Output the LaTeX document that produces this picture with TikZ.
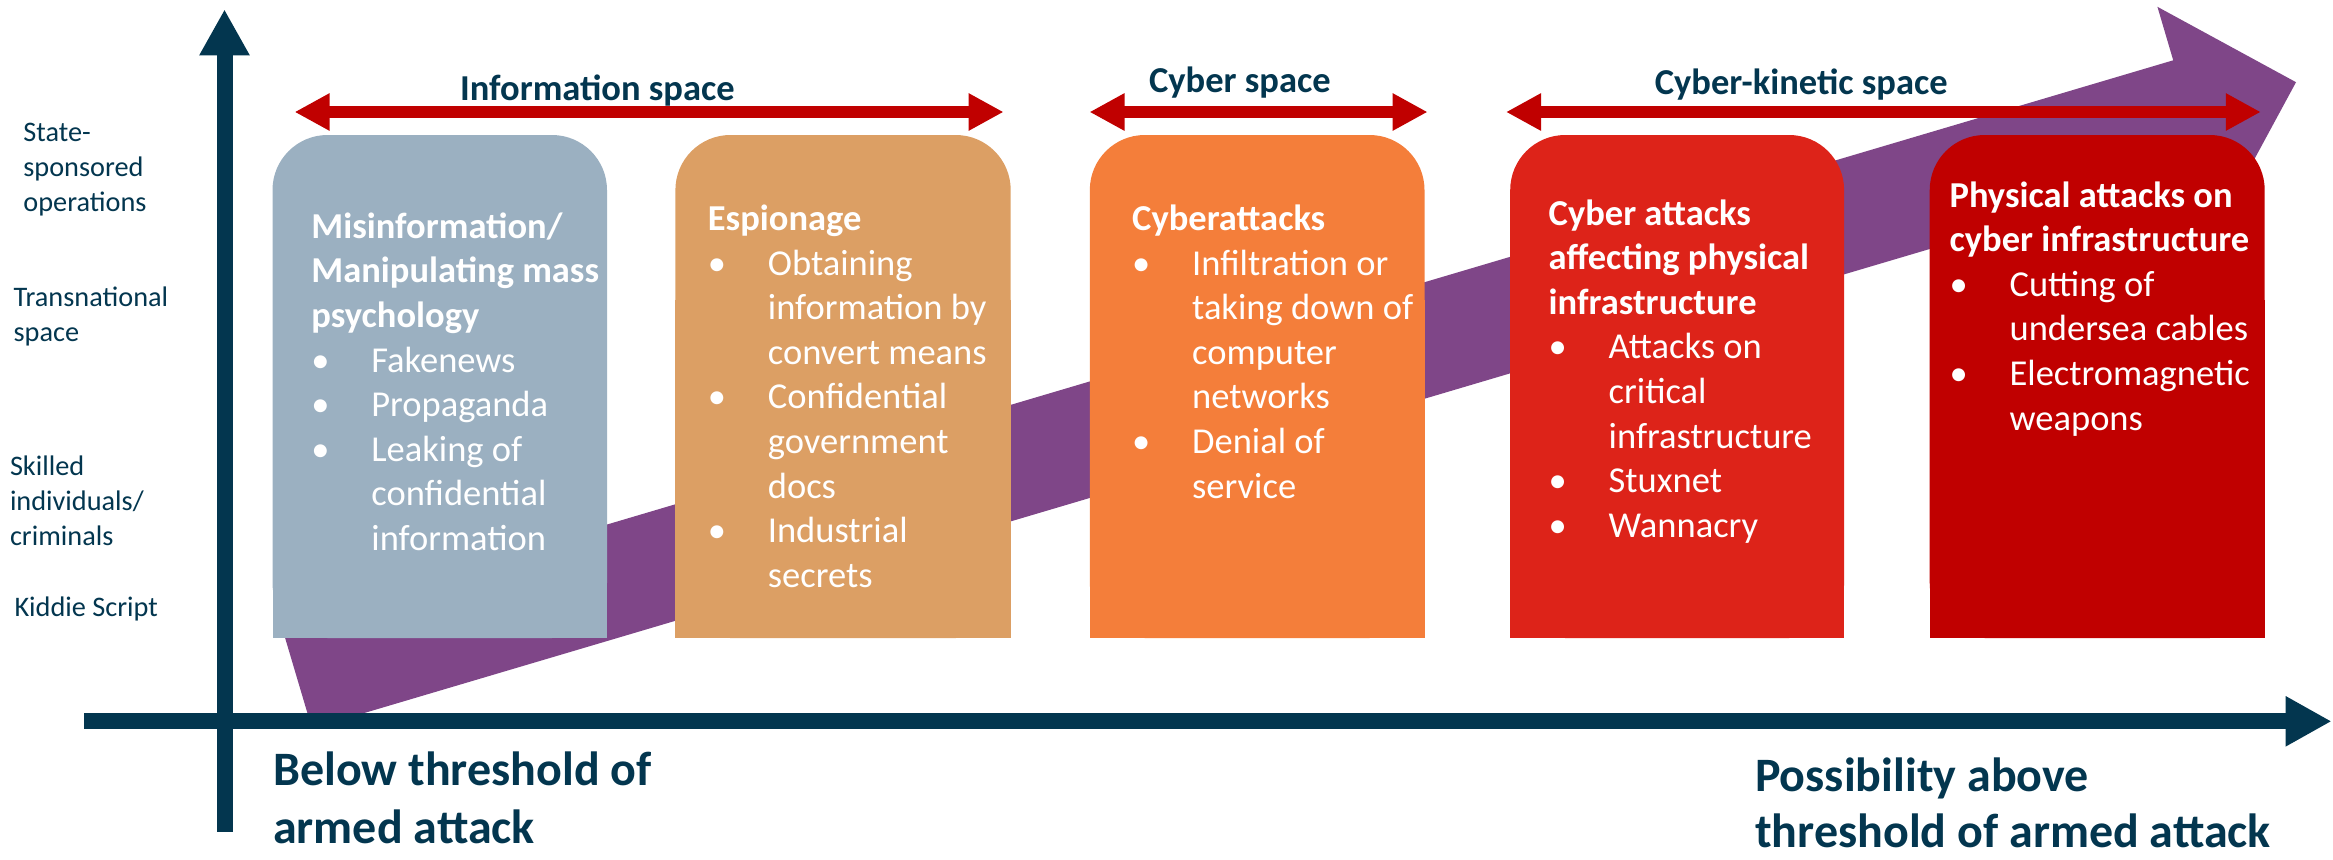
\documentclass[tikz,border=0pt]{standalone}
\usepackage{fontspec}
\setmainfont{Carlito}
\usetikzlibrary{arrows.meta}
\definecolor{navy}{HTML}{03364F}
\definecolor{spanred}{HTML}{C00000}
\definecolor{band}{HTML}{7F4688}
\definecolor{tileA}{HTML}{9BB0C1}
\definecolor{tileB}{HTML}{DC9F64}
\definecolor{tileC}{HTML}{F47E3A}
\definecolor{tileD}{HTML}{DD2319}
\definecolor{tileE}{HTML}{C00000}
\newcommand{\bul}{\makebox[60pt][l]{\textbullet}}

\begin{document}
\begin{tikzpicture}[x=1pt,y=-1pt,
  tiletext/.style={anchor=base west,inner sep=0pt,text=white,font=\fontsize{36.5}{44.6}\selectfont},
  level/.style={anchor=base west,inner sep=0pt,text=navy,font=\fontsize{28.3}{35}\selectfont},
  spacelabel/.style={anchor=base west,inner sep=0pt,text=navy,font=\bfseries\fontsize{36.5}{44}\selectfont},
  threshold/.style={anchor=base west,inner sep=0pt,text=navy,font=\bfseries\fontsize{48}{58}\selectfont},
  span/.style={draw=spanred,line width=12pt,{Triangle[length=35pt,width=35pt]}-{Triangle[length=35pt,width=35pt]}},
  axis/.style={draw=navy,line width=16pt,-{Triangle[length=46pt,width=47pt]}}]
\useasboundingbox (0,0) rectangle (2333,859);

% rising band
\fill[band] (280.2,621.4) -- (2173.2,60.3) -- (2157.4,6.8) -- (2296,82.2)
  -- (2220.9,221.0) -- (2205,167.4) -- (312,728.5) -- cycle;

% tiles
\fill[tileA,rounded corners=55pt] (272.5,135) rectangle (607,638);
\fill[tileA] (272.5,300) rectangle (607,638);
\fill[tileB,rounded corners=55pt] (675.4,135) rectangle (1010.7,638);
\fill[tileB] (675.4,300) rectangle (1010.7,638);
\fill[tileC,rounded corners=55pt] (1089.8,135) rectangle (1424.5,638);
\fill[tileC] (1089.8,300) rectangle (1424.5,638);
\fill[tileD,rounded corners=55pt] (1510.2,135) rectangle (1844.1,638);
\fill[tileD] (1510.2,300) rectangle (1844.1,638);
\fill[tileE,rounded corners=55pt] (1929.7,135) rectangle (2264.7,638);
\fill[tileE] (1929.7,300) rectangle (2264.7,638);

% axes
\coordinate (ybot) at (224.5,831.7);
\coordinate (ytop) at (224.5,9.3);
\coordinate (xleft) at (84.2,721.3);
\coordinate (xright) at (2331.6,721.3);
\draw[axis] (ybot) -- (ytop);
\draw[axis] (xleft) -- (xright);

% spans
\coordinate (info-l) at (294.6,112);
\coordinate (info-r) at (1003.6,112);
\coordinate (cyb-l) at (1089.5,112);
\coordinate (cyb-r) at (1427.6,112);
\coordinate (kin-l) at (1506,112);
\coordinate (kin-r) at (2260.8,112);
\draw[span] (info-l) -- (info-r);
\draw[span] (cyb-l) -- (cyb-r);
\draw[span] (kin-l) -- (kin-r);

\node[spacelabel] (info) at (459.8,100) {Information space};
\node[spacelabel] (cyber) at (1148.9,92.7) {Cyber space};
\node[spacelabel] (kinetic) at (1654.6,94) {Cyber-kinetic space};

% actor levels
\node[level] (state) at (23.2,141.7) {\begin{tabular}[t]{@{}l@{}}State-\\sponsored\\operations\end{tabular}};
\node[level] (transnat) at (13.4,306.7) {\begin{tabular}[t]{@{}l@{}}Transnational\\space\end{tabular}};
\node[level] (skilled) at (9.8,475) {\begin{tabular}[t]{@{}l@{}}Skilled\\individuals/\\criminals\end{tabular}};
\node[level] (kiddie) at (14.3,616.7) {Kiddie Script};

% tile texts
\node[tiletext] (misinfo) at (311.2,238.3) {\begin{tabular}[t]{@{}l@{}l@{}}
\multicolumn{2}{@{}l@{}}{\bfseries Misinformation/}\\
\multicolumn{2}{@{}l@{}}{\bfseries Manipulating mass}\\
\multicolumn{2}{@{}l@{}}{\bfseries psychology}\\
\bul & Fakenews\\
\bul & Propaganda\\
\bul & Leaking of\\
 & confidential\\
 & information\end{tabular}};
\node[tiletext] (espionage) at (707.7,230.4) {\begin{tabular}[t]{@{}l@{}l@{}}
\multicolumn{2}{@{}l@{}}{\bfseries Espionage}\\
\bul & Obtaining\\
 & information by\\
 & convert means\\
\bul & Confidential\\
 & government\\
 & docs\\
\bul & Industrial\\
 & secrets\end{tabular}};
\node[tiletext] (cyberatt) at (1132,230.4) {\begin{tabular}[t]{@{}l@{}l@{}}
\multicolumn{2}{@{}l@{}}{\bfseries Cyberattacks}\\
\bul & Infiltration or\\
 & taking down of\\
 & computer\\
 & networks\\
\bul & Denial of\\
 & service\end{tabular}};
\node[tiletext] (cyberphys) at (1548.5,225) {\begin{tabular}[t]{@{}l@{}l@{}}
\multicolumn{2}{@{}l@{}}{\bfseries Cyber attacks}\\
\multicolumn{2}{@{}l@{}}{\bfseries affecting physical}\\
\multicolumn{2}{@{}l@{}}{\bfseries infrastructure}\\
\bul & Attacks on\\
 & critical\\
 & infrastructure\\
\bul & Stuxnet\\
\bul & Wannacry\end{tabular}};
\node[tiletext] (physatt) at (1949.4,207) {\begin{tabular}[t]{@{}l@{}l@{}}
\multicolumn{2}{@{}l@{}}{\bfseries Physical attacks on}\\
\multicolumn{2}{@{}l@{}}{\bfseries cyber infrastructure}\\
\bul & Cutting of\\
 & undersea cables\\
\bul & Electromagnetic\\
 & weapons\end{tabular}};

% thresholds
\node[threshold] (below) at (273,785) {Below threshold of};
\node[threshold] (below-2) at (273,843.3) {armed attack};
\node[threshold] (above) at (1755,791.5) {Possibility above};
\node[threshold] (above-2) at (1755,847.5) {threshold of armed attack};
\end{tikzpicture}
\end{document}
